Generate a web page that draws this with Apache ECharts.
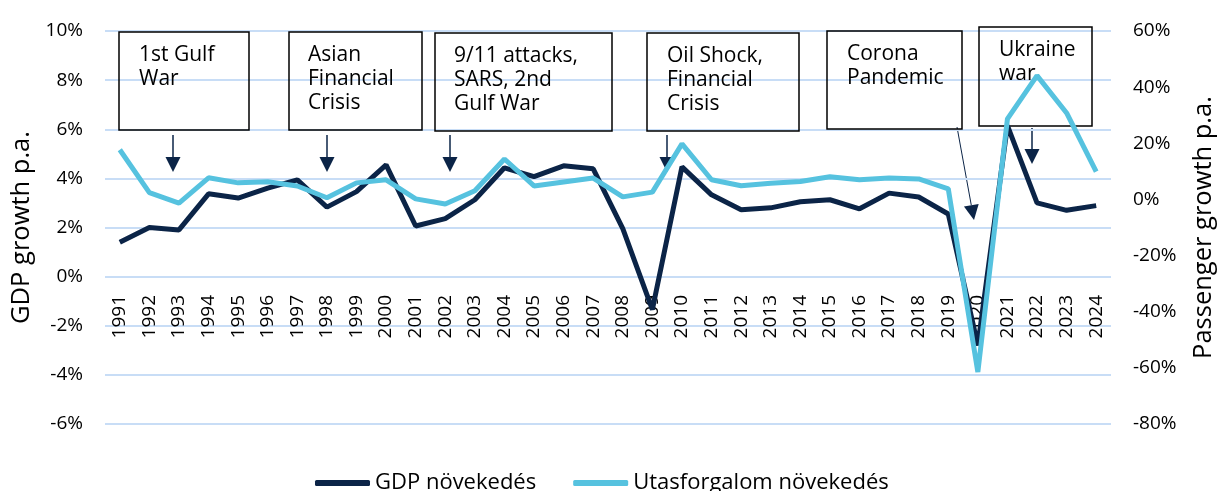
<!DOCTYPE html>
<html>
<head>
<meta charset="utf-8">
<script src="https://cdn.jsdelivr.net/npm/echarts@6/dist/echarts.min.js"></script>
<style>
  html, body { margin: 0; padding: 0; background: #fff; }
  #main { width: 1219px; height: 491px; }
</style>
</head>
<body>
<div id="main"></div>
<script>
// adatok
var years = ['1991', '1992', '1993', '1994', '1995', '1996', '1997', '1998', '1999', '2000',
    '2001', '2002', '2003', '2004', '2005', '2006', '2007', '2008', '2009', '2010',
    '2011', '2012', '2013', '2014', '2015', '2016', '2017', '2018', '2019', '2020',
    '2021', '2022', '2023', '2024'];
// GDP növekedés (%)
var gdpGrowth = [1.4, 2.0, 1.9, 3.37, 3.2, 3.6, 3.94, 2.83, 3.46, 4.55,
    2.06, 2.36, 3.13, 4.43, 4.07, 4.51, 4.39, 1.95, -1.34, 4.47,
    3.33, 2.72, 2.8, 3.05, 3.13, 2.76, 3.4, 3.24, 2.55, -2.8,
    6.15, 3.0, 2.7, 2.89];
// Utasforgalom növekedés (%)
var paxGrowth = [17.7, 2.4, -1.3, 7.7, 5.9, 6.3, 4.8, 0.6, 5.9, 7.0,
    0.2, -1.6, 3.1, 14.4, 4.8, 6.2, 7.6, 0.9, 2.6, 19.8,
    7.0, 4.9, 5.8, 6.4, 8.1, 7.0, 7.6, 7.3, 3.8, -61.5,
    28.7, 44.1, 30.8, 9.9];
var events = [
    '1st Gulf\nWar',
    'Asian\nFinancial\nCrisis',
    '9/11 attacks,\nSARS, 2nd\nGulf War',
    'Oil Shock,\nFinancial\nCrisis',
    'Corona\nPandemic',
    'Ukraine\nwar'
];

var FONT = 'Open Sans';
var darkBlue = '#0b2447';
var lightBlue = '#56c2df';

// annotation dobozok + nyilak
var boxes = [
    [119, 32, 130, 98, 139, 43],
    [289, 32, 133, 98, 308, 43],
    [435, 33, 177, 98, 454, 44],
    [647, 33, 152, 98, 667, 44],
    [827, 31, 135, 98, 847, 42],
    [979, 27, 113, 99, 999, 38]
];
var arrows = [
    [173, 135, 173, 172, 1.5],
    [327, 135, 327, 172, 1.5],
    [450, 135, 450, 172, 1.5],
    [667, 135, 667, 172, 1.5],
    [957, 127, 974, 220, 1],
    [1032, 128, 1032, 164, 1.5]
];

function arrowGraphic(x1, y1, x2, y2, w) {
    var dx = x2 - x1, dy = y2 - y1;
    var len = Math.sqrt(dx * dx + dy * dy);
    var ux = dx / len, uy = dy / len;
    var hl = 15, hw = 7.5;
    var bx = x2 - ux * hl, by = y2 - uy * hl;
    return [{
        type: 'line',
        shape: { x1: x1, y1: y1, x2: bx, y2: by },
        style: { stroke: darkBlue, lineWidth: w }
    }, {
        type: 'polygon',
        shape: { points: [[x2, y2], [bx - uy * hw, by + ux * hw], [bx + uy * hw, by - ux * hw]] },
        style: { fill: darkBlue }
    }];
}

var graphics = [];
boxes.forEach(function (b, i) {
    graphics.push({
        type: 'rect',
        shape: { x: b[0], y: b[1], width: b[2], height: b[3] },
        style: { fill: 'none', stroke: '#000', lineWidth: 1.5 },
        z: 1
    });
    graphics.push({
        type: 'text',
        x: b[4], y: b[5],
        style: { text: events[i], font: '21px "Open Sans"', fill: '#000', lineHeight: 24, verticalAlign: 'top' },
        z: 1
    });
});
arrows.forEach(function (a) {
    graphics = graphics.concat(arrowGraphic(a[0], a[1], a[2], a[3], a[4]));
});

var myChart = echarts.init(document.getElementById('main'));
var option = {
    animation: false,
    textStyle: { fontFamily: FONT },
    // 0: fő rács, 1: csak az évszámok a 0% vonalon
    grid: [
        { left: 105, right: 108, top: 31, bottom: 67, outerBoundsMode: 'none' },
        { left: 105, right: 108, top: 31, height: 246, outerBoundsMode: 'none' }
    ],
    legend: {
        data: ['GDP növekedés', 'Utasforgalom növekedés'],
        left: 310,
        top: 467,
        icon: 'roundRect',
        itemWidth: 55,
        itemHeight: 6,
        itemGap: 37,
        textStyle: { fontSize: 22, color: '#000', fontFamily: FONT }
    },
    xAxis: [{
        type: 'category',
        gridIndex: 0,
        data: years,
        axisLine: { show: false },
        axisTick: { show: false },
        axisLabel: { show: false }
    }, {
        type: 'category',
        gridIndex: 1,
        data: years,
        axisLine: { show: false },
        axisTick: { show: false },
        axisLabel: { rotate: 90, margin: 18, fontSize: 19, color: '#000', interval: 0 }
    }],
    yAxis: [{
        type: 'value',
        gridIndex: 0,
        min: -6, max: 10, interval: 2,
        name: 'GDP growth p.a.',
        nameLocation: 'middle',
        nameGap: 69,
        nameTextStyle: { fontSize: 25.5, color: '#000' },
        axisLabel: { margin: 22, fontSize: 19, color: '#000', formatter: '{value}%' },
        splitLine: { lineStyle: { color: '#c8ddf6', width: 2 } },
        axisLine: { show: false },
        axisTick: { show: false }
    }, {
        type: 'value',
        gridIndex: 0,
        min: -80, max: 60, interval: 20,
        name: 'Passenger growth p.a.',
        nameLocation: 'middle',
        nameGap: 80,
        nameRotate: 90,
        nameTextStyle: { fontSize: 25.5, color: '#000' },
        axisLabel: { margin: 22, fontSize: 19, color: '#000', formatter: '{value}%' },
        splitLine: { show: false },
        axisLine: { show: false },
        axisTick: { show: false }
    }, {
        type: 'value',
        gridIndex: 1,
        show: false,
        min: 0, max: 1
    }],
    series: [{
        name: 'GDP növekedés',
        type: 'line',
        xAxisIndex: 0,
        yAxisIndex: 0,
        data: gdpGrowth,
        symbol: 'none',
        lineStyle: { color: darkBlue, width: 5 },
        itemStyle: { color: darkBlue },
        z: 3
    }, {
        name: 'Utasforgalom növekedés',
        type: 'line',
        xAxisIndex: 0,
        yAxisIndex: 1,
        data: paxGrowth,
        symbol: 'none',
        lineStyle: { color: lightBlue, width: 5 },
        itemStyle: { color: lightBlue },
        z: 4
    }],
    graphic: graphics
};
myChart.setOption(option);
</script>
</body>
</html>
